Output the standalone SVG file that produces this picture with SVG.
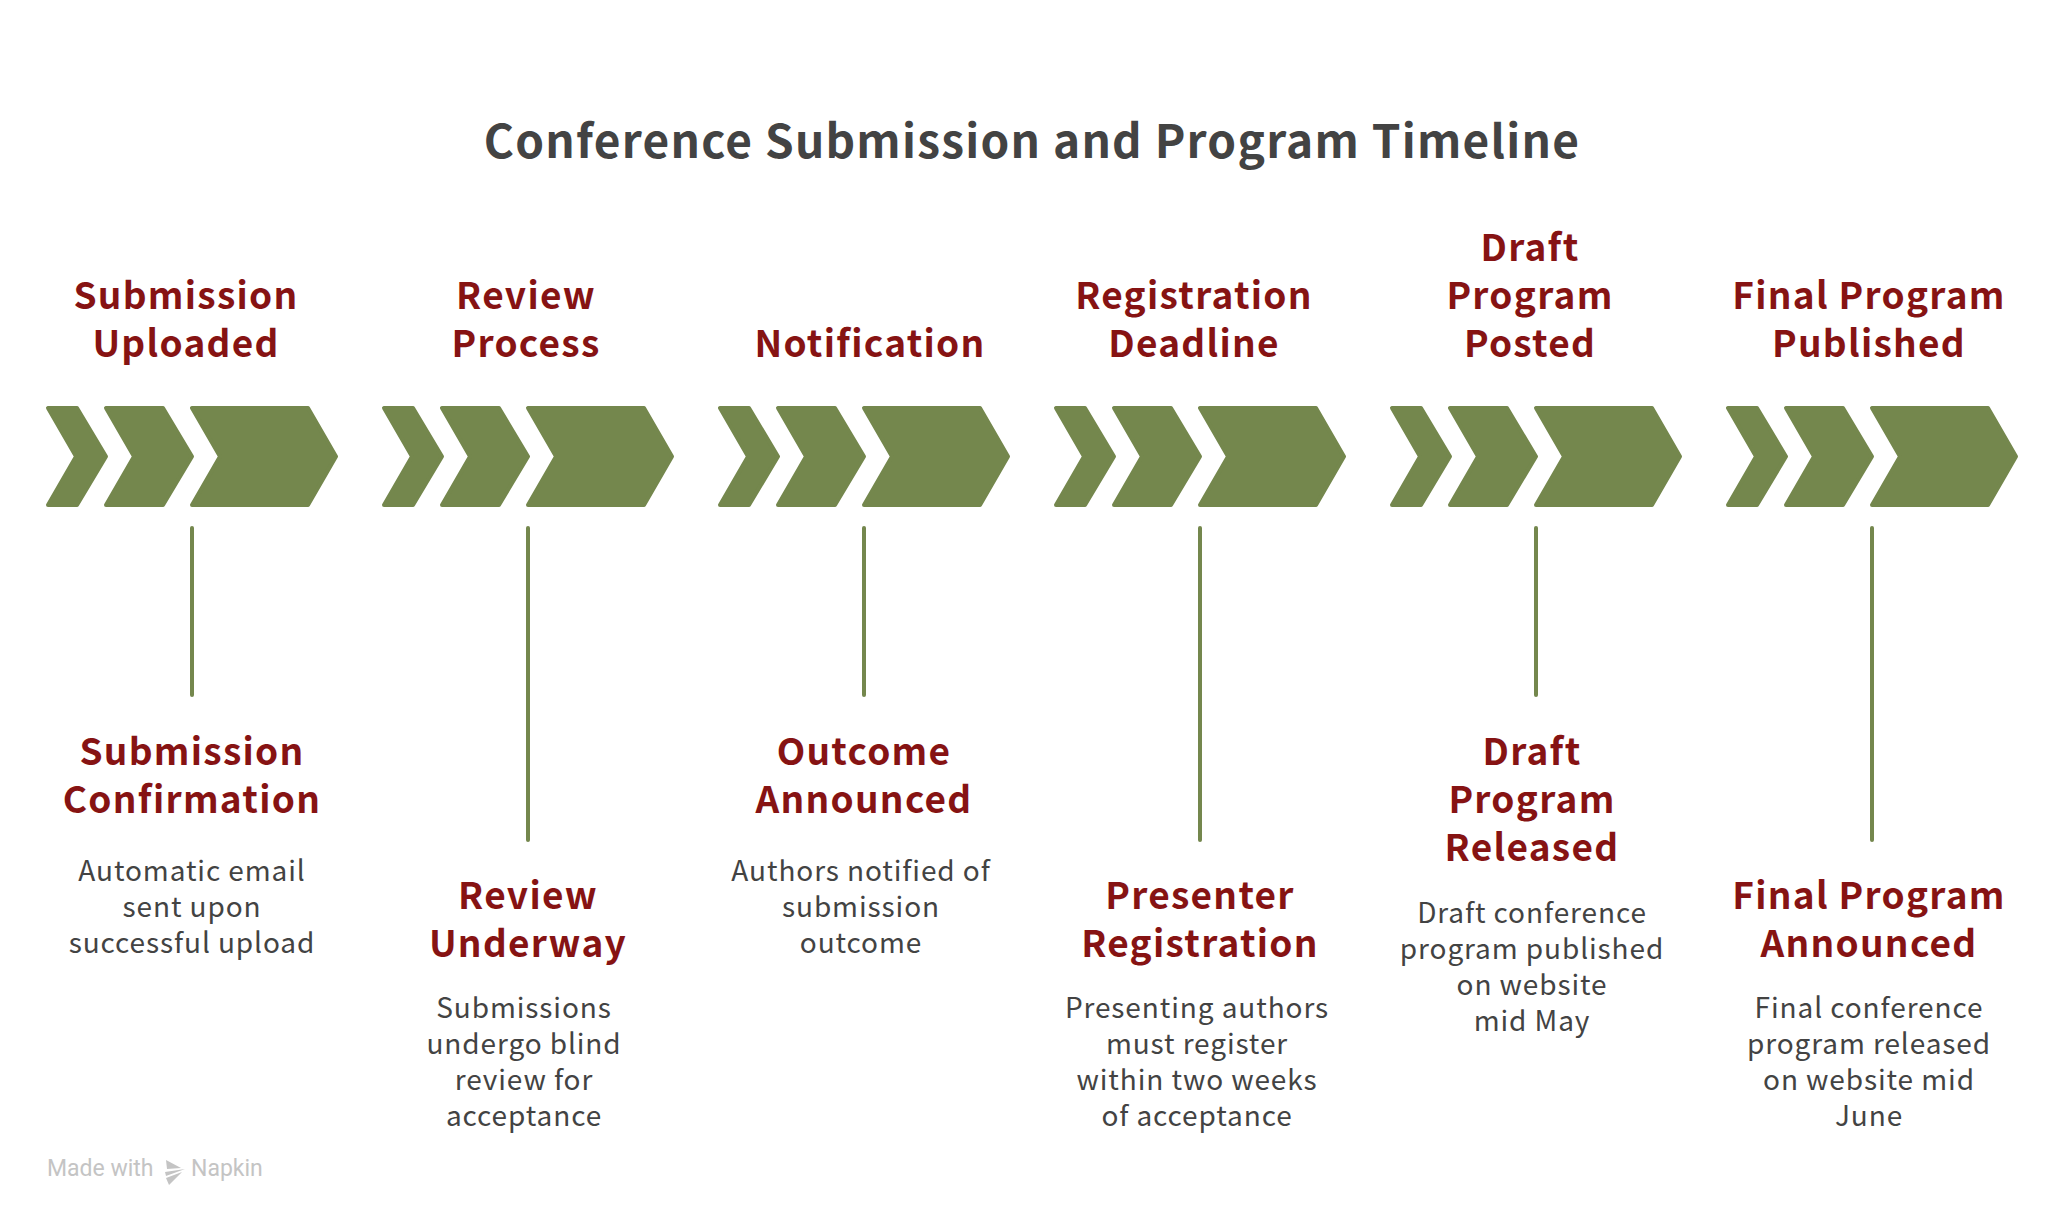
<svg xmlns="http://www.w3.org/2000/svg" xmlns:xlink="http://www.w3.org/1999/xlink" width="2064" height="1224" viewBox="0 0 2064 1224">
<style>
text{text-anchor:middle;font-family:"Noto Sans CJK JP","Noto Sans",sans-serif}
.t{font-size:46px;font-weight:700;fill:#434343;letter-spacing:1.25px}
.h{font-size:37px;font-weight:700;fill:#861313;letter-spacing:1.3px}
.b{font-size:28px;font-weight:400;fill:#434343;letter-spacing:.9px}
.c{fill:#74874d;stroke:#74874d;stroke-width:4;stroke-linejoin:round}
.l{stroke:#74874d;stroke-width:4;stroke-linecap:round;fill:none}
.w{font-family:Roboto,sans-serif;font-size:23px;fill:#c4c4c4;text-anchor:start;font-weight:400}
</style>
<defs><g id="chev">
<path class="c" d="M48 408H77L106 456.500 77 505H48L76 456.500Z"/>
<path class="c" d="M106 408H163L192 456.500 163 505H106L134 456.500Z"/>
<path class="c" d="M192 408H308L336 456.500 308 505H192L220 456.500Z"/>
</g></defs>
<rect width="2064" height="1224" fill="#fff"/>
<text id="title" class="t" x="1032" y="158">Conference Submission and Program Timeline</text>
<g id="connectors">
<path class="l" d="M192 528V695"/><path class="l" d="M528 528V840"/><path class="l" d="M864 528V695"/><path class="l" d="M1200 528V840"/><path class="l" d="M1536 528V695"/><path class="l" d="M1872 528V840"/>
</g>
<g id="node-1"><use xlink:href="#chev" href="#chev"/><text class="h" x="186" y="309">Submission</text><text class="h" x="186" y="357">Uploaded</text>
<text class="h" x="192" y="765">Submission</text><text class="h" x="192" y="813">Confirmation</text>
<text class="b" x="192" y="881">Automatic email</text><text class="b" x="192" y="917">sent upon</text><text class="b" x="192" y="953">successful upload</text></g>
<g id="node-2"><use xlink:href="#chev" href="#chev" x="336"/><text class="h" x="526" y="309">Review</text><text class="h" x="526" y="357">Process</text>
<text class="h" x="528" y="909">Review</text><text class="h" x="528" y="957">Underway</text>
<text class="b" x="524" y="1018">Submissions</text><text class="b" x="524" y="1054">undergo blind</text><text class="b" x="524" y="1090">review for</text><text class="b" x="524" y="1126">acceptance</text></g>
<g id="node-3"><use xlink:href="#chev" href="#chev" x="672"/><text class="h" x="870" y="357">Notification</text>
<text class="h" x="864" y="765">Outcome</text><text class="h" x="864" y="813">Announced</text>
<text class="b" x="861" y="881">Authors notified of</text><text class="b" x="861" y="917">submission</text><text class="b" x="861" y="953">outcome</text></g>
<g id="node-4"><use xlink:href="#chev" href="#chev" x="1008"/><text class="h" x="1194" y="309">Registration</text><text class="h" x="1194" y="357">Deadline</text>
<text class="h" x="1200" y="909">Presenter</text><text class="h" x="1200" y="957">Registration</text>
<text class="b" x="1197" y="1018">Presenting authors</text><text class="b" x="1197" y="1054">must register</text><text class="b" x="1197" y="1090">within two weeks</text><text class="b" x="1197" y="1126">of acceptance</text></g>
<g id="node-5"><use xlink:href="#chev" href="#chev" x="1344"/><text class="h" x="1530" y="261">Draft</text><text class="h" x="1530" y="309">Program</text><text class="h" x="1530" y="357">Posted</text>
<text class="h" x="1532" y="765">Draft</text><text class="h" x="1532" y="813">Program</text><text class="h" x="1532" y="861">Released</text>
<text class="b" x="1532" y="923">Draft conference</text><text class="b" x="1532" y="959">program published</text><text class="b" x="1532" y="995">on website</text><text class="b" x="1532" y="1031">mid May</text></g>
<g id="node-6"><use xlink:href="#chev" href="#chev" x="1680"/><text class="h" x="1869" y="309">Final Program</text><text class="h" x="1869" y="357">Published</text>
<text class="h" x="1869" y="909">Final Program</text><text class="h" x="1869" y="957">Announced</text>
<text class="b" x="1869" y="1018">Final conference</text><text class="b" x="1869" y="1054">program released</text><text class="b" x="1869" y="1090">on website mid</text><text class="b" x="1869" y="1126">June</text></g>
<g id="watermark"><text class="w" x="47" y="1176">Made with</text>
<path d="M166 1160l15 8-14 1zM165 1172l20-3-19 7zM166 1178l16-6-13 13z" fill="#c4c4c4"/>
<text class="w" x="191" y="1176">Napkin</text></g>
</svg>
